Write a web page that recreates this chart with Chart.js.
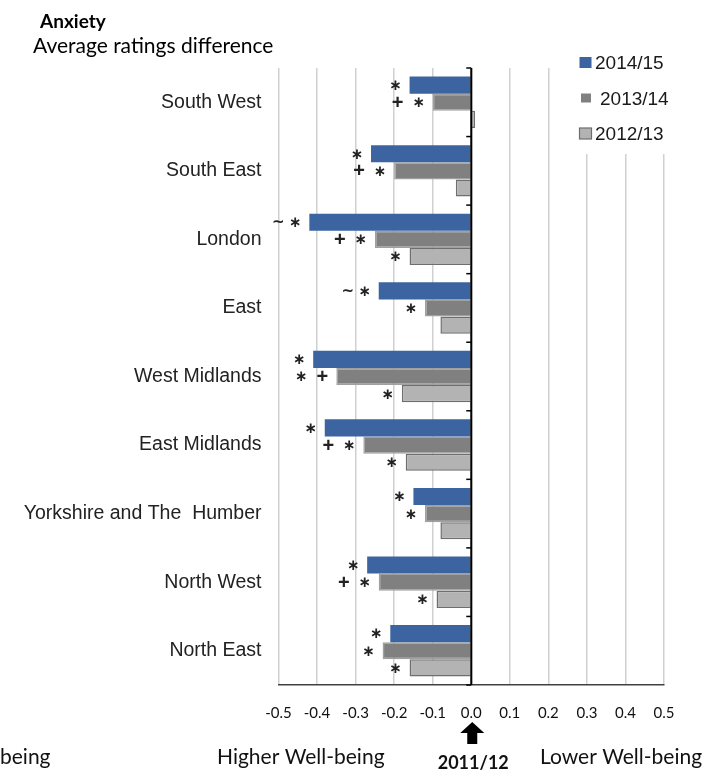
<!DOCTYPE html>
<html><head><meta charset="utf-8">
<script src="https://cdn.jsdelivr.net/npm/chart.js@4.4.1/dist/chart.umd.min.js"></script>
<style>html,body{margin:0;padding:0;background:#fff;}#wrap{position:relative;width:711px;height:772px;}</style>
</head><body><div id="wrap"><canvas id="c" width="711" height="772"></canvas></div>
<script>
// ---- data ----
const regions = ['South West','South East','London','East','West Midlands','East Midlands','Yorkshire and The  Humber','North West','North East'];
const seriesNames = ['2014/15','2013/14','2012/13'];
const v1415 = [-0.16,-0.26,-0.42,-0.24,-0.41,-0.38,-0.15,-0.27,-0.21];
const v1314 = [-0.10,-0.20,-0.25,-0.12,-0.35,-0.28,-0.12,-0.24,-0.23];
const v1213 = [0.01,-0.04,-0.16,-0.08,-0.18,-0.17,-0.08,-0.09,-0.16];
const sig1415 = ['*','*','~ *','~ *','*','*','*','*','*'];
const sig1314 = ['+ *','+ *','+ *','*','* +','+ *','*','+ *','*'];
const sig1213 = ['','','*','','*','*','','*','*'];
const xTickValues = [-0.5,-0.4,-0.3,-0.2,-0.1,0,0.1,0.2,0.3,0.4,0.5];
const xTickLabels = ['-0.5','-0.4','-0.3','-0.2','-0.1','0.0','0.1','0.2','0.3','0.4','0.5'];
const titleText = 'Anxiety';
const subtitleText = 'Average ratings difference';
const leftLabel = 'Higher Well-being';
const rightLabel = 'Lower Well-being';
const cutLabel = 'being';
const baseLabel = '2011/12';

const colors = ['#3b64a0','#808080','#b3b3b3'];
const borders = ['#3b64a0','#a0a0a0','#6e6e6e'];

const sigPlugin = {
  id:'sig',
  afterDatasetsDraw(chart){
    const ctx = chart.ctx;
    const x0 = chart.scales.x.getPixelForValue(0);
    const y = chart.scales.y;
    ctx.save();
    ctx.strokeStyle = '#000'; ctx.lineWidth = 2;
    ctx.beginPath(); ctx.moveTo(x0, chart.chartArea.top); ctx.lineTo(x0, chart.chartArea.bottom); ctx.stroke();
    const n = regions.length;
    const step = (y.getPixelForValue(1) - y.getPixelForValue(0));
    ctx.lineWidth = 1.5;
    for (let i = 0; i <= n; i++) {
      const yy = y.getPixelForValue(0) - step/2 + i*step;
      ctx.beginPath(); ctx.moveTo(x0 - 5, yy); ctx.lineTo(x0, yy); ctx.stroke();
    }
    const sigs = [sig1415, sig1314, sig1213];
    ctx.fillStyle = '#222';
    ctx.textAlign = 'center'; ctx.textBaseline = 'middle';
    chart.data.datasets.forEach((ds, di) => {
      const meta = chart.getDatasetMeta(di);
      meta.data.forEach((el, j) => {
        const s = sigs[di][j];
        if (!s) return;
        const toks = s.split(' ').reverse();
        let cx = el.x - 14;
        toks.forEach((t, k) => {
          if (t === '*') { ctx.font = 'bold 15px "DejaVu Sans"'; ctx.fillText('\u2217', cx, el.y + 1); }
          else if (t === '+') { ctx.font = 'bold 20px "Liberation Sans"'; ctx.fillText('+', cx, el.y + 1); }
          else { ctx.font = 'bold 15px "DejaVu Sans"'; ctx.fillText('~', cx, el.y + 1); }
          cx -= (toks[k+1] === '~' ? 17 : 21);
        });
      });
    });
    ctx.restore();
  },
  afterDraw(chart){
    const ctx = chart.ctx;
    const x0 = chart.scales.x.getPixelForValue(0);
    ctx.save();
    // legend
    ctx.fillStyle = '#fff';
    ctx.fillRect(570, 44, 110, 110);
    chart.data.datasets.forEach((ds, i) => {
      const cy = 63 + i*35.5;
      if (i === 1) {
        ctx.fillStyle = ds.backgroundColor; ctx.fillRect(581, cy-5, 10, 9);
      } else {
        ctx.fillStyle = ds.backgroundColor; ctx.fillRect(579.5, cy-6, 12, 11);
        if (i === 2) { ctx.strokeStyle = '#6e6e6e'; ctx.lineWidth = 1.2; ctx.strokeRect(579.5, cy-6, 12, 11); }
      }
      ctx.fillStyle = '#1a1a1a';
      ctx.font = '19px "Liberation Sans"';
      ctx.textAlign = 'left'; ctx.textBaseline = 'middle';
      ctx.fillText(ds.label, i === 1 ? 600 : 595, cy + 1);
    });
    // titles
    ctx.fillStyle = '#000';
    ctx.textBaseline = 'alphabetic'; ctx.textAlign = 'left';
    ctx.font = 'bold 19px Lato'; ctx.fillText(titleText, 40, 28);
    ctx.font = '21px Lato'; ctx.fillText(subtitleText, 33, 53);
    // bottom labels
    ctx.fillStyle = '#111';
    ctx.font = '21px Lato';
    ctx.fillText(cutLabel, 0, 764);
    ctx.fillText(leftLabel, 217, 764);
    ctx.fillText(rightLabel, 540, 764);
    ctx.textAlign = 'center';
    ctx.font = 'bold 18px Lato';
    ctx.fillText(baseLabel, x0 + 2, 769);
    // arrow
    ctx.fillStyle = '#000';
    ctx.beginPath();
    ctx.moveTo(x0 + 1, 722);
    ctx.lineTo(x0 + 13, 733);
    ctx.lineTo(x0 + 6, 733);
    ctx.lineTo(x0 + 6, 744);
    ctx.lineTo(x0 - 4, 744);
    ctx.lineTo(x0 - 4, 733);
    ctx.lineTo(x0 - 11, 733);
    ctx.closePath(); ctx.fill();
    ctx.restore();
  }
};

new Chart(document.getElementById('c'), {
  type:'bar',
  data:{
    labels: regions,
    datasets:[
      {label:seriesNames[0], data:v1415, backgroundColor:colors[0], borderColor:borders[0], borderWidth:0},
      {label:seriesNames[1], data:v1314, backgroundColor:colors[1], borderColor:borders[1], borderWidth:1.5},
      {label:seriesNames[2], data:v1213, backgroundColor:colors[2], borderColor:borders[2], borderWidth:1.5}
    ]
  },
  options:{
    indexAxis:'y', responsive:false, animation:false,
    layout:{padding:{top:68,right:47,left:0,bottom:0}},
    datasets:{bar:{categoryPercentage:0.75, barPercentage:1.0}},
    plugins:{legend:{display:false}, tooltip:{enabled:false}, title:{display:false}},
    scales:{
      x:{
        min:-0.5, max:0.5,
        afterBuildTicks:(s)=>{ s.ticks = xTickValues.map(v=>({value:v})); },
        ticks:{callback:(v,i)=>xTickLabels[i], font:{family:'Lato', size:15}, color:'#111', padding:19, autoSkip:false, maxRotation:0},
        grid:{color:'#d0d0d0', lineWidth:1.5, drawTicks:false},
        border:{display:true, color:'#404040', width:1.5},
        afterFit:(s)=>{ s.height = 87; }
      },
      y:{
        ticks:{font:{family:'Liberation Sans', size:19.5}, color:'#222', padding:17},
        grid:{display:false, drawTicks:false},
        border:{display:false},
        afterFit:(s)=>{ s.width = 278.5; }
      }
    }
  },
  plugins:[sigPlugin]
});
</script></body></html>
